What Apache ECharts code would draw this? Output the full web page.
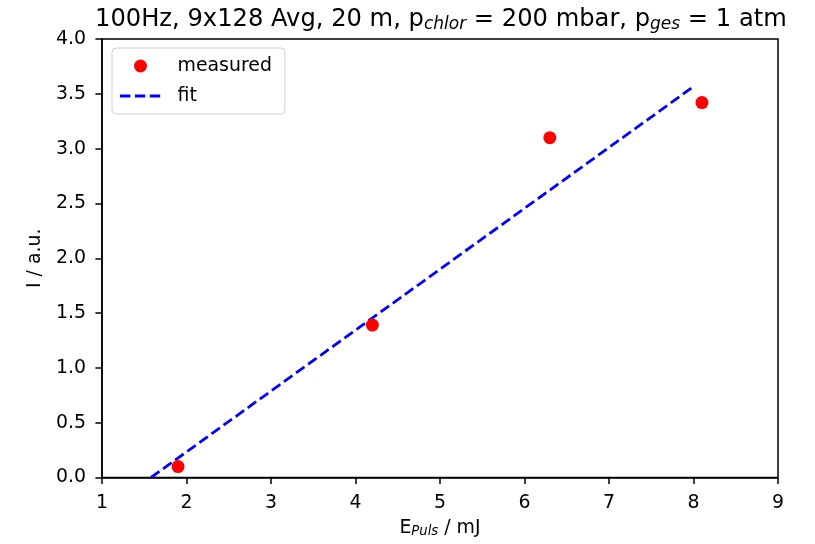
<!DOCTYPE html>
<html><head><meta charset="utf-8">
<script src="https://cdn.jsdelivr.net/npm/echarts@6/dist/echarts.min.js"></script>
<style>html,body{margin:0;padding:0;background:#fff}#c{width:815px;height:544px}</style>
</head><body><div id="c"></div>
<script>
const measuredX = [1.9, 4.2, 6.3, 8.1];
const measuredY = [0.10, 1.39, 3.10, 3.42];
const fitX = [1.58, 7.98];
const fitY = [0.0, 3.555];
const xTicks = [1, 2, 3, 4, 5, 6, 7, 8, 9];
const yTicks = [0, 0.5, 1, 1.5, 2, 2.5, 3, 3.5, 4];

const font = 'DejaVu Sans';
const fs = 18.9;
// dashed legend icon: three dashes plus two tiny corner points to fix the bounding box
const dashIcon = 'path://M0,0h0.01v0.01h-0.01z M40.99,11.99h0.01v0.01h-0.01z ' +
  'M0,4.6h10.4v2.8h-10.4z M14.9,4.6h10.4v2.8h-10.4z M29.8,4.6h10.4v2.8h-10.4z';

const chart = echarts.init(document.getElementById('c'), null, {renderer: 'canvas'});
chart.setOption({
  animation: false,
  backgroundColor: '#fff',
  title: {
    text: '100Hz, 9x128 Avg, 20 m, p{s|chlor} = 200 mbar, p{s|ges} = 1 atm',
    left: 95, top: 6, padding: 0,
    textStyle: {
      fontFamily: font, fontSize: 24.2, fontWeight: 'normal', color: '#000',
      rich: {
        s: {fontFamily: font, fontSize: 17, fontStyle: 'italic', color: '#000', padding: [10, 0, 0, 0]}
      }
    }
  },
  grid: {left: 102, right: 37, top: 39, bottom: 66.5, show: true, borderColor: '#000', borderWidth: 1.5, backgroundColor: 'transparent'},
  legend: {
    orient: 'vertical', left: 112, top: 48,
    padding: [8.5, 13, 8.5, 8],
    itemGap: 11, itemWidth: 41, itemHeight: 13,
    borderColor: '#d0d0d0', borderWidth: 1, borderRadius: 4, backgroundColor: 'rgba(255,255,255,0.8)',
    textStyle: {fontFamily: font, fontSize: fs, color: '#000', padding: [0, 0, 0, 11.5]},
    data: [
      {name: 'measured', icon: 'circle', itemStyle: {color: '#ff0000'}},
      {name: 'fit', icon: dashIcon, itemStyle: {color: '#0000ff'}}
    ]
  },
  xAxis: {
    type: 'value', min: 1, max: 9, interval: 1,
    name: 'E{s|Puls} / mJ', nameLocation: 'middle', nameGap: 41,
    nameTextStyle: {fontFamily: font, fontSize: fs, color: '#000',
      rich: {s: {fontFamily: font, fontSize: 13.2, fontStyle: 'italic', color: '#000', padding: [7, 0, 0, 0]}}},
    axisLine: {show: true, lineStyle: {color: '#000', width: 1.5}},
    axisTick: {show: true, inside: false, length: 6.6, lineStyle: {color: '#000', width: 1.5}},
    axisLabel: {fontFamily: font, fontSize: fs, color: '#000', margin: 16,
      formatter: v => xTicks.includes(v) ? String(v) : ''},
    splitLine: {show: false}
  },
  yAxis: {
    type: 'value', min: 0, max: 4, interval: 0.5,
    name: 'I / a.u.', nameLocation: 'middle', nameGap: 52,
    nameTextStyle: {fontFamily: font, fontSize: fs, color: '#000'},
    axisLine: {show: true, lineStyle: {color: '#000', width: 1.5}},
    axisTick: {show: true, inside: false, length: 6.6, lineStyle: {color: '#000', width: 1.5}},
    axisLabel: {fontFamily: font, fontSize: fs, color: '#000', margin: 16,
      formatter: v => yTicks.includes(v) ? v.toFixed(1) : ''},
    splitLine: {show: false}
  },
  series: [
    {
      name: 'measured', type: 'scatter', symbol: 'circle', symbolSize: 13,
      itemStyle: {color: '#ff0000', opacity: 1},
      data: measuredX.map((x, i) => [x, measuredY[i]]),
      z: 3
    },
    {
      name: 'fit', type: 'line', showSymbol: false, symbol: 'none',
      lineStyle: {color: '#0000ff', width: 2.8, type: [10.4, 4.5]},
      itemStyle: {color: '#0000ff'},
      data: fitX.map((x, i) => [x, fitY[i]]),
      z: 2
    }
  ]
});
</script></body></html>
